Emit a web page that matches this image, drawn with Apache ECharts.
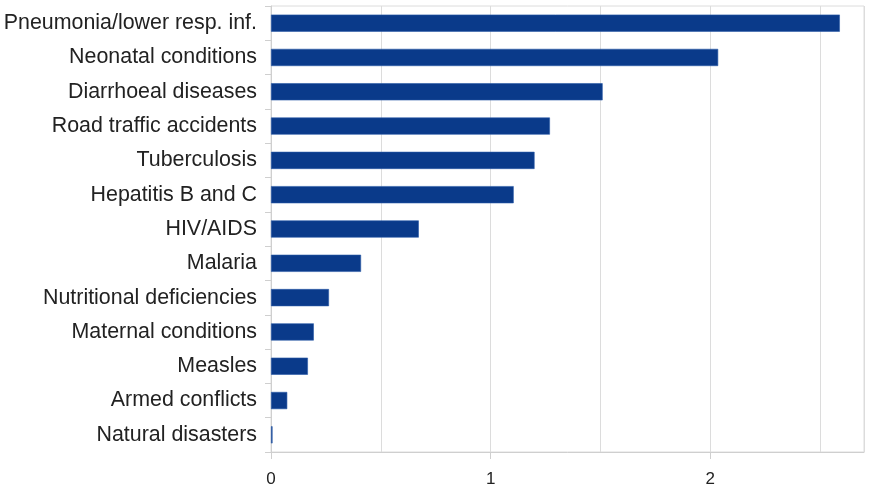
<!DOCTYPE html>
<html>
<head>
<meta charset="utf-8">
<script src="https://cdn.jsdelivr.net/npm/echarts@6/dist/echarts.min.js"></script>
<style>html,body{margin:0;padding:0;background:#fff}#c{width:870px;height:495px}</style>
</head>
<body>
<div id="c"></div>
<script>
const categories = [
  "Pneumonia/lower resp. inf.",
  "Neonatal conditions",
  "Diarrhoeal diseases",
  "Road traffic accidents",
  "Tuberculosis",
  "Hepatitis B and C",
  "HIV/AIDS",
  "Malaria",
  "Nutritional deficiencies",
  "Maternal conditions",
  "Measles",
  "Armed conflicts",
  "Natural disasters"
];
const values = [2.59, 2.036, 1.51, 1.27, 1.20, 1.105, 0.673, 0.41, 0.264, 0.195, 0.168, 0.074, 0.007];
const xTickLabels = [0, 1, 2];

const chart = echarts.init(document.getElementById('c'));
chart.setOption({
  animation: false,
  grid: {left: 271, right: 6, top: 6, bottom: 43, show: true, borderColor: '#dcdcdc', borderWidth: 1},
  xAxis: [{
    type: 'value', min: 0, max: 2.7, interval: 0.5,
    axisLine: {show: false},
    axisTick: {show: false},
    axisLabel: {show: false},
    splitLine: {show: true, lineStyle: {color: '#dcdcdc'}}
  }, {
    type: 'value', min: 0, max: 2.7, position: 'bottom',
    axisLine: {show: true, lineStyle: {color: '#cfcfcf'}},
    axisTick: {show: true, customValues: xTickLabels, length: 7, lineStyle: {color: '#cfcfcf'}},
    axisLabel: {customValues: xTickLabels, color: '#222', fontFamily: 'Liberation Sans', fontSize: 17, margin: 19},
    splitLine: {show: false}
  }],
  yAxis: {
    type: 'category', data: categories, inverse: true,
    axisLine: {show: true, lineStyle: {color: '#cfcfcf'}},
    axisTick: {show: true, length: 6, lineStyle: {color: '#cfcfcf'}},
    axisLabel: {color: '#222', fontFamily: 'Liberation Sans', fontSize: 21.4, margin: 14}
  },
  series: [{
    type: 'bar', data: values, barWidth: '50%', xAxisIndex: 0,
    itemStyle: {color: '#0a3a8a', borderColor: '#2a5aa8', borderWidth: 0.6}
  }]
});
</script>
</body>
</html>
